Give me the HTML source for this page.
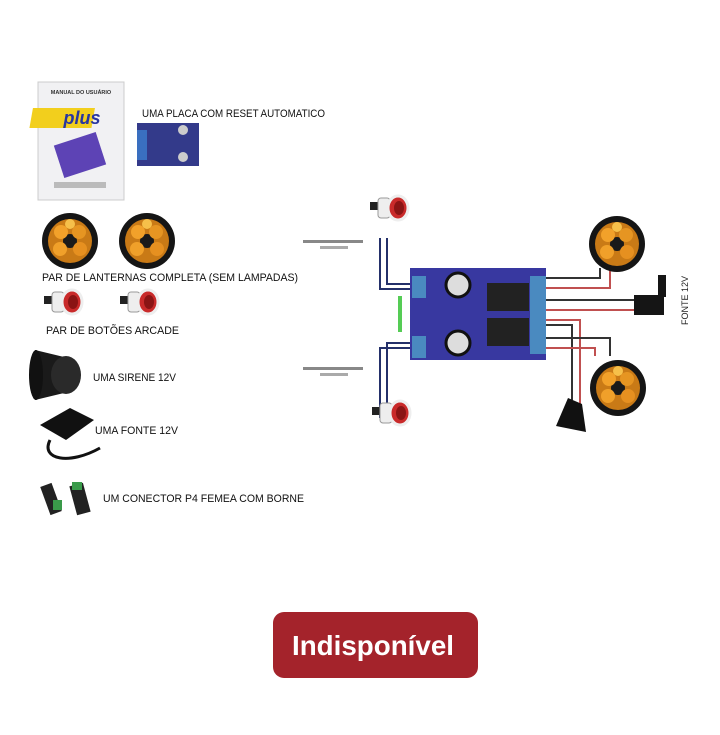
<!DOCTYPE html>
<html><head><meta charset="utf-8"><style>
html,body{margin:0;padding:0;background:#fff;width:720px;height:735px;overflow:hidden}
svg{display:block}
text{font-family:"Liberation Sans",sans-serif}
</style></head><body>
<svg width="720" height="735" viewBox="0 0 720 735">
<defs>
<g id="lan"><circle r="28" fill="#151515"/><circle r="22" fill="#c97a16"/><circle r="7" fill="#1a1a1a"/><circle cx="-9" cy="-9" r="7" fill="#f2a12a"/><circle cx="9" cy="-9" r="7" fill="#e69522"/><circle cx="-10" cy="8" r="7" fill="#f0a02a"/><circle cx="10" cy="8" r="7" fill="#e69020"/><circle cx="0" cy="-17" r="5" fill="#f6c04a"/></g>
<g id="btn"><rect x="-22" y="-6" width="10" height="8" fill="#222"/><rect x="-14" y="-10" width="12" height="20" rx="3" fill="#eee" stroke="#999"/><ellipse cx="6" cy="0" rx="10" ry="12" fill="#c92a2a" stroke="#eee" stroke-width="3"/><ellipse cx="7" cy="0" rx="5" ry="7" fill="#8a1414"/></g>
</defs>
<rect x="38" y="82" width="86" height="118" fill="#f1f1f3" stroke="#ccc"/>
<text x="81" y="94" font-size="5.5" font-weight="bold" text-anchor="middle" fill="#333">MANUAL DO USUÁRIO</text>
<rect x="52" y="108" width="62" height="20" fill="#f2cf1d" transform="skewX(-10)"/>
<text x="82" y="124" font-size="18" font-weight="bold" font-style="italic" text-anchor="middle" fill="#2836a0">plus</text>
<rect x="58" y="138" width="44" height="34" fill="#5d43b5" transform="rotate(-18 80 155)"/>
<rect x="54" y="182" width="52" height="6" fill="#bbb"/>
<rect x="137" y="123" width="62" height="43" fill="#333a8a"/>
<rect x="137" y="130" width="10" height="30" fill="#3a6fc0"/>
<circle cx="183" cy="130" r="5" fill="#ccc"/><circle cx="183" cy="157" r="5" fill="#ccc"/>
<text x="142" y="117" font-size="11" fill="#111" textLength="183" lengthAdjust="spacingAndGlyphs">UMA PLACA COM RESET AUTOMATICO</text>
<use href="#lan" x="70" y="241"/><use href="#lan" x="147" y="241"/>
<text x="42" y="281" font-size="11" fill="#111" textLength="256" lengthAdjust="spacingAndGlyphs">PAR DE LANTERNAS COMPLETA (SEM LAMPADAS)</text>
<use href="#btn" x="66" y="302"/><use href="#btn" x="142" y="302"/>
<text x="46" y="334" font-size="11" fill="#111" textLength="133" lengthAdjust="spacingAndGlyphs">PAR DE BOTÕES ARCADE</text>
<path d="M35 350 L64 357 L64 393 L35 400 Z" fill="#1a1a1a"/><ellipse cx="66" cy="375" rx="15" ry="19" fill="#2a2a2a"/><ellipse cx="36" cy="375" rx="7" ry="25" fill="#111"/>
<text x="93" y="381" font-size="11" fill="#111" textLength="83" lengthAdjust="spacingAndGlyphs">UMA SIRENE 12V</text>
<path d="M40 425 L70 408 L94 420 L66 440 Z" fill="#111"/><path d="M50 440 C40 460,70 465,100 448" stroke="#111" stroke-width="3" fill="none"/>
<text x="95" y="434" font-size="11" fill="#111" textLength="83" lengthAdjust="spacingAndGlyphs">UMA FONTE 12V</text>
<rect x="45" y="484" width="12" height="30" fill="#222" transform="rotate(-20 51 499)"/><rect x="53" y="500" width="9" height="10" fill="#3a9a4a"/>
<rect x="73" y="484" width="14" height="30" fill="#222" transform="rotate(-15 80 499)"/><rect x="72" y="482" width="10" height="8" fill="#3a9a4a"/>
<text x="103" y="502" font-size="11" fill="#111" textLength="201" lengthAdjust="spacingAndGlyphs">UM CONECTOR P4 FEMEA COM BORNE</text>
<g fill="none" stroke-width="2">
<path d="M380 238 V289 H410" stroke="#24306a"/><path d="M387 238 V284 H410" stroke="#24306a"/>
<path d="M380 418 V348 H410" stroke="#24306a"/><path d="M387 418 V343 H410" stroke="#24306a"/>
<path d="M545 278 H600 V268" stroke="#333"/><path d="M545 288 H610 V268" stroke="#c05050"/>
<path d="M545 300 H635" stroke="#333"/><path d="M545 310 H635" stroke="#c05050"/>
<path d="M545 320 H580 V405" stroke="#c05050"/><path d="M545 325 H572 V400" stroke="#333"/>
<path d="M545 338 H610 V356" stroke="#333"/><path d="M545 348 H595 V356" stroke="#c05050"/>
</g>
<rect x="410" y="268" width="136" height="92" fill="#3838a0"/>
<rect x="412" y="276" width="14" height="22" fill="#4a8ac0"/><rect x="412" y="336" width="14" height="22" fill="#4a8ac0"/>
<rect x="530" y="276" width="16" height="78" fill="#4a8ac0"/>
<circle cx="458" cy="285" r="12" fill="#ddd" stroke="#111" stroke-width="3"/><circle cx="458" cy="343" r="12" fill="#ddd" stroke="#111" stroke-width="3"/>
<rect x="487" y="283" width="42" height="28" fill="#222"/><rect x="487" y="318" width="42" height="28" fill="#222"/>
<rect x="398" y="296" width="4" height="36" fill="#5c5"/>
<use href="#lan" x="617" y="244"/>
<use href="#lan" x="618" y="388"/>
<rect x="634" y="295" width="30" height="20" fill="#151515"/><rect x="658" y="275" width="8" height="22" fill="#151515"/>
<text x="0" y="0" font-size="9" fill="#222" transform="translate(688 325) rotate(-90)">FONTE 12V</text>
<path d="M556 426 L568 398 L582 404 L586 432 Z" fill="#111"/>
<use href="#btn" x="392" y="208"/><use href="#btn" x="394" y="413"/>
<rect x="303" y="240" width="60" height="3" fill="#888"/><rect x="320" y="246" width="28" height="3" fill="#aaa"/>
<rect x="303" y="367" width="60" height="3" fill="#888"/><rect x="320" y="373" width="28" height="3" fill="#aaa"/>
<rect x="273" y="612" width="205" height="66" rx="11" fill="#a4232b"/>
<text x="373" y="655" font-size="28" font-weight="bold" fill="#fff" text-anchor="middle" textLength="162" lengthAdjust="spacingAndGlyphs">Indisponível</text>
</svg>
</body></html>
